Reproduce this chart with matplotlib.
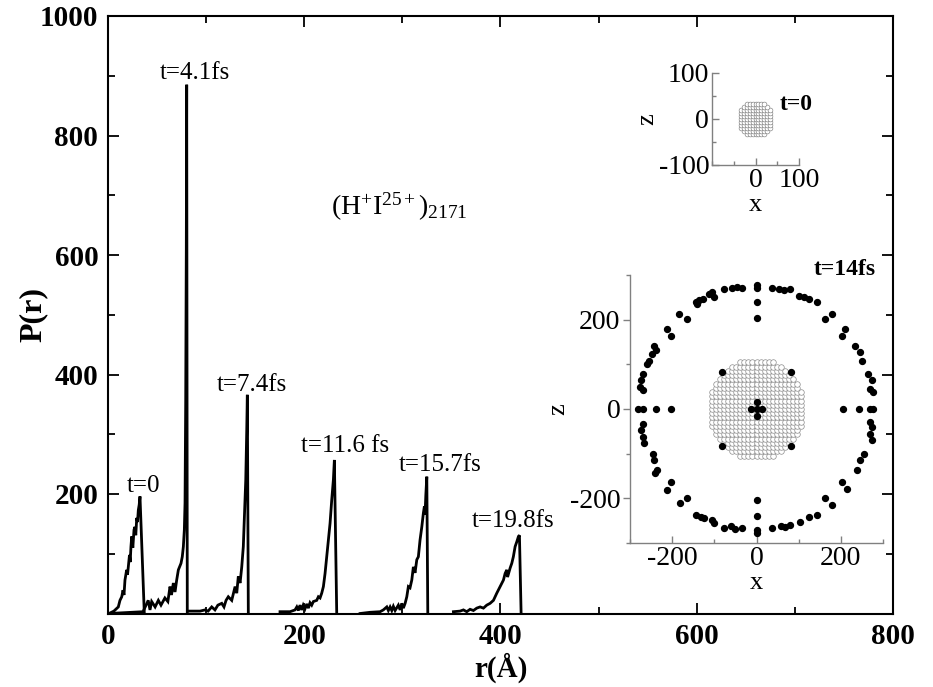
import numpy as np
import matplotlib
matplotlib.use("Agg")
import matplotlib.pyplot as plt
from matplotlib.ticker import MultipleLocator

plt.rcParams['font.family'] = ['Liberation Serif', 'DejaVu Serif']
plt.rcParams['mathtext.fontset'] = 'custom'
plt.rcParams['mathtext.rm'] = 'Liberation Serif'
plt.rcParams['mathtext.it'] = 'Liberation Serif:italic'
plt.rcParams['axes.unicode_minus'] = False

# ---- radial distributions P(r) at several times ----
r_t0 = [1, 6, 10.5, 12.2, 14, 15.3, 16.3, 17.3, 19, 19.9, 20.7, 21.9, 22.6, 23.4, 24.2,
        25.3, 26.5, 27.5, 28.3, 29.3, 30.1, 30.9, 31.8, 32.6, 37]
p_t0 = [0, 4, 11, 22, 28, 39, 31, 56, 73, 65, 78, 98, 86, 112, 129,
        110, 140, 145, 131, 160, 153, 173, 182, 196, 0]

r_t41 = [1, 35.7, 41, 42.8, 44.5, 48, 51.3, 54, 58, 61, 63.2, 64.7, 66.6, 68.3, 70,
         71.7, 74.4, 75.7, 76.8, 77.8, 78.5, 79.2, 79.8, 80.2, 80.8]
p_t41 = [0, 3, 22, 6, 20, 11, 22, 14, 26, 20, 45, 31, 51, 36, 56,
         73, 84, 95, 112, 140, 185, 358, 610, 885, 0]

r_t74 = [81.5, 93.8, 98.9, 102, 105.7, 109, 112, 115.9, 118.2, 120.3, 122.6, 126.1,
         129.5, 131.2, 132.8, 134.6, 136.3, 137.9, 138.9, 140.4, 141.4, 142, 143]
p_t74 = [4, 4, 6, 4, 11, 6, 14, 17, 11, 22, 28, 22,
         45, 34, 62, 51, 78, 112, 157, 224, 307, 366, 0]

r_t116 = [175.3, 185.5, 190.6, 192.4, 194, 195.7, 197.4, 199, 200.8, 202.6, 204.2, 205.9,
          207.6, 209.3, 212.7, 214.4, 216.1, 217.8, 219.5, 221.2, 222.9, 224.6, 226.3,
          228, 229.7, 230.7, 233.1]
p_t116 = [3, 3, 6, 11, 5, 14, 6, 14, 8, 16, 9, 18,
          14, 20, 22, 28, 26, 34, 45, 67, 95, 123, 151,
          190, 224, 257, 0]

r_t157 = [256.9, 267.1, 277.3, 280.6, 284.1, 285.7, 287.5, 289.2, 290.8, 292.6, 295.9,
          297.7, 299.4, 301, 302.8, 304.5, 306.1, 307.8, 309.6, 311.2, 312.9, 314.7,
          316.3, 318, 319.8, 321.4, 322.4, 323.1, 323.9, 324.9, 325.9]
p_t157 = [0, 2, 3, 6, 11, 5, 11, 5, 12, 5, 14,
          6, 17, 9, 17, 28, 45, 43, 56, 78, 68, 90,
          95, 123, 145, 168, 179, 165, 198, 229, 0]

r_t198 = [352, 358.8, 362.2, 365.6, 369, 372.4, 375.8, 379.2, 382.6, 386, 389.4, 392.8,
          396.2, 399.6, 403, 404.7, 406.4, 407.2, 409.8, 411.5, 413.1, 414.9, 416.6,
          418.3, 419.3, 421]
p_t198 = [3, 4, 6, 3, 7, 5, 9, 11, 9, 14, 17, 22,
          34, 45, 56, 67, 73, 61, 76, 84, 95, 112, 120,
          129, 131, 0]

curves = [(r_t0, p_t0), (r_t41, p_t41), (r_t74, p_t74),
          (r_t116, p_t116), (r_t157, p_t157), (r_t198, p_t198)]

peak_labels = ["t=0", "t=4.1fs", "t=7.4fs", "t=11.6 fs", "t=15.7fs", "t=19.8fs"]
label_r = [35.7, 88.7, 146.8, 241.6, 338.4, 412.8]
label_p = [213, 905, 383, 281, 249, 155]

# ---- ion positions (x, z) at t=14fs ----
h_x = [0, 0, 0, 0, -77, -57, -46, -34, -105, -101, -113, -144, -136, -128, -142,
       -183, -164, -213, -203, -243, -239, -249, -254, -260, -270, -274, -276, -270,
       -280, -270, -239, -203,
       -270, -274, -270, -266, -246, -243, -236, -241, -213, -203, -181, -164,
       -144, -132, -124, -105, -101, -77, -61, -50, -34, 0, 0, 0, 0,
       37, 53, 65, 80, 100, 112, 124, 143, 163, 179, 202, 210, 234, 246, 250,
       265, 273, 269, 277, 277, 269, 242, 206,
       269, 273, 269, 273, 254, 246, 238, 202, 214, 163, 179, 104, 124, 143,
       37, 57, 68, 80,
       -81, 81, -81, 81, -14, 13, 0, 0, 0]
h_z = [278, 272, 239, 204, 268, 271, 274, 272, 261, 250, 257, 239, 244, 246, 235,
       213, 201, 179, 164, 142, 131, 123, 108, 101, 79, 64, 49, 42,
       0, 0, 0, 0,
       -33, -48, -62, -77, -100, -114, -137, -144, -181, -163, -211, -200,
       -237, -241, -245, -248, -256, -267, -263, -269, -267, -271, -278, -239, -204,
       272, 268, 266, 268, 254, 250, 246, 239, 201, 213, 164, 179, 142, 127, 108,
       79, 64, 45, 38, 0, 0, 0, 0,
       -29, -40, -55, -70, -100, -114, -137, -163, -178, -200, -215, -252, -241, -237,
       -267, -263, -265, -259,
       82, 82, -82, -82, 0, 0, 16, -16, 0]

# iodine core lattice: (spacing, radius) for each snapshot
core_t14 = (9.5, 112.0)
core_t0 = (6.5, 38.0)


def lattice(spacing, radius):
    n = int(radius // spacing) + 1
    g = np.arange(-n, n + 1) * spacing
    xx, zz = np.meshgrid(g, g)
    keep = xx ** 2 + zz ** 2 <= radius ** 2
    return xx[keep], zz[keep]


W, H = 933, 687
fig = plt.figure(figsize=(W / 100, H / 100), dpi=100)

# ---- main panel ----
ax = fig.add_axes([108 / W, 73.5 / H, 785 / W, 597.5 / H])
for r, p in curves:
    ax.plot(r, p, color='black', lw=2.0, solid_joinstyle='miter')
for txt, xr, yp in zip(peak_labels, label_r, label_p):
    ax.text(xr, yp, txt, ha='center', va='center', fontsize=18)
ax.text(296.6, 681, r'(H$^{+}$I$^{25+}$)$_{2171}$', ha='center', va='center', fontsize=20)

ax.set_xlim(0, 800)
ax.set_ylim(0, 1000)
ax.set_xticks([0, 200, 400, 600, 800])
ax.set_yticks([0, 200, 400, 600, 800, 1000])
ax.set_yticklabels(['', '200', '400', '600', '800', '1000'])
ax.xaxis.set_minor_locator(MultipleLocator(100))
ax.yaxis.set_minor_locator(MultipleLocator(100))
ax.tick_params(which='both', direction='in', top=True, right=True, width=1.3)
ax.tick_params(which='major', length=8, labelsize=21, pad=7)
ax.tick_params(which='minor', length=5)
for lab in ax.get_xticklabels() + ax.get_yticklabels():
    lab.set_fontweight('bold')
for s in ax.spines.values():
    s.set_linewidth(1.5)
ax.set_xlabel('r(Å)', fontsize=21, fontweight='bold', labelpad=2)
ax.set_ylabel('P(r)', fontsize=23, fontweight='bold', labelpad=-6)

grey = '0.5'


def style_inset(a, lim, minor):
    a.set_xlim(-lim, lim)
    a.set_ylim(-lim, lim)
    a.xaxis.set_minor_locator(MultipleLocator(minor))
    a.yaxis.set_minor_locator(MultipleLocator(minor))
    for side in ('top', 'right'):
        a.spines[side].set_visible(False)
    for side in ('left', 'bottom'):
        a.spines[side].set_color(grey)
        a.spines[side].set_linewidth(1.0)
    a.tick_params(which='both', color=grey, labelsize=20, width=1.0)
    a.tick_params(which='major', length=5, pad=2)
    a.tick_params(which='minor', length=3)
    a.set_facecolor('none')


# ---- t=0 inset ----
ai = fig.add_axes([712 / W, (H - 165) / H, 87 / W, 92 / H])
cx, cz = lattice(*core_t0)
ai.scatter(cx, cz, s=12, facecolors='white', edgecolors='0.45', linewidths=0.4)
style_inset(ai, 100, 50)
ai.set_xticks([0, 100])
ai.set_yticks([-100, 0, 100])
ai.tick_params(which='both', direction='in')
ai.set_xlabel('x', fontsize=19, labelpad=1)
ai.set_ylabel('z', fontsize=19, labelpad=0)
ai.text(0.78, 0.66, 't=0', transform=ai.transAxes, fontsize=17, fontweight='bold',
        ha='left', va='center')

# ---- t=14fs inset ----
ab = fig.add_axes([630 / W, (H - 543) / H, 253 / W, 268 / H])
bx, bz = lattice(*core_t14)
ab.scatter(bx, bz, s=16, facecolors='white', edgecolors='0.55', linewidths=0.5, zorder=2)
ab.scatter(h_x, h_z, s=18, color='black', zorder=3)
style_inset(ab, 300, 100)
ab.set_xticks([-200, 0, 200])
ab.set_yticks([-200, 0, 200])
ab.tick_params(axis='y', which='both', direction='out')
ab.tick_params(axis='x', which='both', direction='in')
ab.set_xlabel('x', fontsize=19, labelpad=1)
ab.set_ylabel('z', fontsize=19, labelpad=0)
ab.text(0.97, 1.02, 't=14fs', transform=ab.transAxes, fontsize=17, fontweight='bold',
        ha='right', va='center')

fig.savefig('out.png', dpi=100)
